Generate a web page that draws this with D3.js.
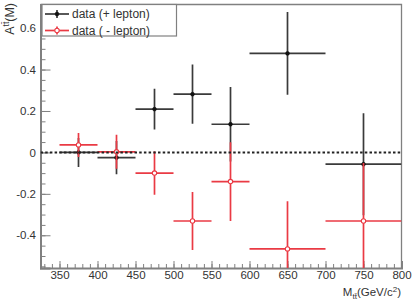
<!DOCTYPE html>
<html>
<head>
<meta charset="utf-8">
<script src="https://cdn.jsdelivr.net/npm/d3@7"></script>
<style>
  body { margin: 0; background: #fff; }
  svg { display: block; font-family: 'Liberation Sans', Arial, sans-serif; }
</style>
</head>
<body>
<svg id="chart" width="415" height="301"></svg>
<script>
// bins in M_tt (GeV/c^2)
const binLow = [350, 400, 450, 500, 550, 600, 700];
const binHigh = [400, 450, 500, 550, 600, 700, 800];
const binCenter = [375, 425, 475, 525, 575, 650, 750];

// asymmetry, + lepton
const plusA = [0.0, -0.025, 0.209, 0.281, 0.136, 0.478, -0.057];
const plusErr = [0.07, 0.08, 0.098, 0.143, 0.18, 0.2, 0.246];

// asymmetry, - lepton
const minusA = [0.036, 0.003, -0.10, -0.331, -0.141, -0.466, -0.331];
const minusErr = [0.058, 0.082, 0.105, 0.14, 0.19, 0.23, 0.28];

const xMajor = [350, 400, 450, 500, 550, 600, 650, 700, 750, 800];
const xMinor = d3.range(330, 801, 10);
const yMajor = [-0.4, -0.2, 0, 0.2, 0.4, 0.6];
const yMinor = d3.range(-11, 15).map(i => i * 0.05);

const legendLabels = ['data (+ lepton)', 'data ( - lepton)'];

const svg = d3.select('svg#chart');
const box = {left: 40.5, right: 401.5, top: 4.5, bottom: 268};

const x = d3.scaleLinear().domain([325, 800]).range([box.left, box.right]);
const y = d3.scaleLinear().domain([-0.558, 0.714]).range([box.bottom, box.top]);

const black = '#3a3a3a';
const red = '#ea3a44';
const axisCol = '#808080';

svg.append('clipPath').attr('id', 'clip')
    .append('rect')
    .attr('x', box.left).attr('y', box.top)
    .attr('width', box.right - box.left).attr('height', box.bottom - box.top);

// frame top/right
svg.append('path')
    .attr('d', `M${box.left},${box.top}H${box.right}V${box.bottom}`)
    .attr('fill', 'none')
    .attr('stroke', axisCol)
    .attr('stroke-width', 1.3);

// x axis: minor then major
const gx = svg.append('g').attr('transform', `translate(0,${box.bottom})`);
gx.append('g')
    .call(d3.axisBottom(x).tickValues(xMinor).tickSize(-4).tickFormat(''))
    .call(g => g.select('.domain').remove());
gx.append('g')
    .call(d3.axisBottom(x).tickValues(xMajor).tickSize(-7).tickPadding(3).tickFormat(d => String(d)))
    .call(g => g.select('.domain').attr('stroke-width', 2));
gx.selectAll('line').attr('stroke', axisCol);
gx.selectAll('.domain').attr('stroke', axisCol);
gx.selectAll('text').attr('fill', '#333').style('font-size', '11.5px').style('font-family', "'Liberation Sans', Arial, sans-serif");

// y axis
const gy = svg.append('g').attr('transform', `translate(${box.left},0)`);
gy.append('g')
    .call(d3.axisLeft(y).tickValues(yMinor).tickSize(-5).tickFormat(''))
    .call(g => g.select('.domain').remove());
gy.append('g')
    .call(d3.axisLeft(y).tickValues(yMajor).tickSize(-10).tickPadding(4.5).tickFormat(d => String(d)))
    .call(g => g.select('.domain').attr('stroke-width', 2));
gy.selectAll('line').attr('stroke', axisCol);
gy.selectAll('.domain').attr('stroke', axisCol);
gy.selectAll('text').attr('fill', '#333').style('font-size', '11.5px').style('font-family', "'Liberation Sans', Arial, sans-serif");

const plot = svg.append('g').attr('clip-path', 'url(#clip)');

function drawSeries(vals, errs, color, open) {
    const g = plot.append('g').attr('stroke', color).attr('stroke-width', 1.7);
    binCenter.forEach((c, i) => {
        g.append('line')
            .attr('x1', x(binLow[i])).attr('x2', x(binHigh[i]))
            .attr('y1', y(vals[i])).attr('y2', y(vals[i]));
        g.append('line')
            .attr('x1', x(c)).attr('x2', x(c))
            .attr('y1', y(vals[i] - errs[i])).attr('y2', y(vals[i] + errs[i]));
    });
    plot.append('g').selectAll('circle')
        .data(binCenter)
        .join('circle')
        .attr('cx', d => x(d))
        .attr('cy', (d, i) => y(vals[i]))
        .attr('r', open ? 2.2 : 1.9)
        .attr('fill', open ? '#fff' : '#111')
        .attr('stroke', open ? color : '#111')
        .attr('stroke-width', open ? 1.1 : 0.6);
}

drawSeries(plusA, plusErr, black, false);
drawSeries(minusA, minusErr, red, true);

// zero line
plot.append('line')
    .attr('x1', x(325)).attr('x2', x(800))
    .attr('y1', y(0)).attr('y2', y(0))
    .attr('stroke', '#222')
    .attr('stroke-width', 2)
    .attr('stroke-dasharray', '2.5,2.2');

// legend
const lg = svg.append('g');
lg.append('rect')
    .attr('x', 42).attr('y', box.top)
    .attr('width', 134.5).attr('height', 31.5)
    .attr('fill', '#fff')
    .attr('stroke', axisCol)
    .attr('stroke-width', 1.2);
[[black, false], [red, true]].forEach(([col, open], i) => {
    const cy = 14 + i * 16.5;
    const e = lg.append('g');
    e.append('line').attr('x1', 45).attr('x2', 69).attr('y1', cy).attr('y2', cy)
        .attr('stroke', col).attr('stroke-width', 1.7);
    e.append('line').attr('x1', 57).attr('x2', 57).attr('y1', cy - 4).attr('y2', cy + 4)
        .attr('stroke', col).attr('stroke-width', 1.7);
    e.append('circle').attr('cx', 57).attr('cy', cy).attr('r', open ? 2.2 : 1.9)
        .attr('fill', open ? '#fff' : '#111').attr('stroke', open ? col : '#111').attr('stroke-width', open ? 1.1 : 0.6);
    e.append('text')
        .attr('x', 72).attr('y', cy).attr('dy', '0.35em')
        .attr('fill', '#333')
        .style('font-size', '12px')
        .text(legendLabels[i]);
});

// x title
const xt = svg.append('text')
    .attr('x', 401).attr('y', 296)
    .attr('text-anchor', 'end')
    .attr('fill', '#333')
    .style('font-size', '11.5px');
xt.append('tspan').text('M');
xt.append('tspan').attr('dy', 3).style('font-size', '8px').text('t\u0074\u0304');
xt.append('tspan').attr('dy', -3).text('(GeV/c');
xt.append('tspan').attr('dy', -4).style('font-size', '8px').text('2');
xt.append('tspan').attr('dy', 4).text(')');

// y title
const yt = svg.append('text')
    .attr('transform', 'translate(13.5,3) rotate(-90)')
    .attr('text-anchor', 'end')
    .attr('fill', '#333')
    .style('font-size', '12.5px');
yt.append('tspan').text('A');
yt.append('tspan').attr('dy', -5).style('font-size', '8.5px').text('t\u0074\u0304');
yt.append('tspan').attr('dy', 5).text('(M)');
</script>
</body>
</html>
